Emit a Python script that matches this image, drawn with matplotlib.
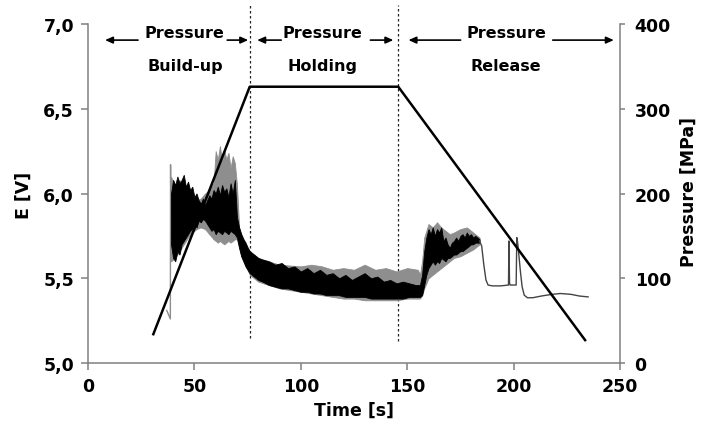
import matplotlib
matplotlib.use("Agg")
import matplotlib.pyplot as plt

# ---------------- data ----------------
# black E signal: envelope (upper / lower) of the noisy trace
t_black = [39, 40, 41, 42, 43, 44, 45, 46, 47, 48, 49, 50, 51, 52, 53, 54, 55, 56, 57, 58,
           59, 60, 61, 62, 63, 64, 65, 66, 67, 68, 69, 70, 71, 72, 73, 74, 75, 76, 78, 80,
           82, 85, 88, 91, 94, 97, 100, 103, 106, 109, 112, 115, 118, 121, 124, 127, 130,
           133, 136, 139, 142, 145, 148, 151, 154, 156, 157, 158, 159, 160, 161, 162, 163,
           164, 165, 166, 167, 168, 169, 170, 171, 172, 173, 174, 175, 176, 177, 178, 179,
           180, 181, 182, 183, 184]
black_hi = [6.00, 6.08, 6.05, 6.10, 6.06, 6.08, 6.11, 6.04, 6.07, 6.02, 6.04, 5.98, 6.00, 5.96,
            5.94, 5.97, 5.93, 5.96, 5.99, 5.97, 6.02, 6.00, 6.04, 5.99, 6.05, 6.01, 6.03, 5.98,
            6.06, 6.00, 6.08, 5.86, 5.80, 5.76, 5.73, 5.71, 5.68, 5.66, 5.64, 5.62, 5.61, 5.60,
            5.58, 5.59, 5.56, 5.57, 5.54, 5.56, 5.53, 5.55, 5.52, 5.53, 5.50, 5.52, 5.49, 5.51,
            5.53, 5.50, 5.51, 5.48, 5.49, 5.47, 5.48, 5.47, 5.46, 5.46, 5.52, 5.66, 5.74, 5.79,
            5.76, 5.80, 5.75, 5.79, 5.77, 5.80, 5.72, 5.74, 5.70, 5.68, 5.71, 5.72, 5.74, 5.72,
            5.75, 5.76, 5.74, 5.77, 5.75, 5.76, 5.74, 5.75, 5.74, 5.73]
black_lo = [5.70, 5.62, 5.60, 5.66, 5.64, 5.70, 5.72, 5.74, 5.76, 5.78, 5.79, 5.82, 5.80, 5.84,
            5.83, 5.85, 5.84, 5.82, 5.80, 5.78, 5.79, 5.76, 5.78, 5.77, 5.76, 5.78, 5.77, 5.76,
            5.78, 5.77, 5.76, 5.74, 5.68, 5.63, 5.60, 5.57, 5.55, 5.53, 5.51, 5.49, 5.48, 5.46,
            5.45, 5.44, 5.44, 5.43, 5.42, 5.42, 5.41, 5.41, 5.40, 5.40, 5.40, 5.39, 5.39, 5.39,
            5.39, 5.38, 5.38, 5.38, 5.38, 5.38, 5.38, 5.39, 5.39, 5.39, 5.40, 5.46, 5.52, 5.56,
            5.58, 5.60, 5.58, 5.60, 5.59, 5.62, 5.61, 5.60, 5.62, 5.62, 5.63, 5.64, 5.64, 5.65,
            5.66, 5.66, 5.67, 5.68, 5.69, 5.70, 5.70, 5.71, 5.71, 5.71]

# grey E signal: envelope of the noisy trace
t_grey = [39, 41, 43, 45, 47, 49, 51, 53, 55, 57, 59, 60, 61, 62, 63, 64, 65, 66, 67, 68, 69,
          70, 71, 72, 76, 80, 90, 100, 105, 110, 115, 120, 125, 130, 135, 140, 145, 150, 155,
          156, 157, 158, 160, 162, 164, 166, 168, 170, 172, 175, 178, 181, 184]
grey_hi = [6.10, 6.04, 6.08, 6.02, 6.00, 5.98, 5.96, 5.97, 6.00, 6.02, 6.06, 6.25, 6.20, 6.28,
           6.18, 6.26, 6.20, 6.24, 6.15, 6.22, 6.18, 6.05, 5.80, 5.76, 5.66, 5.62, 5.58, 5.57,
           5.58, 5.57, 5.55, 5.56, 5.55, 5.58, 5.55, 5.56, 5.54, 5.56, 5.55, 5.52, 5.60, 5.74,
           5.82, 5.80, 5.83, 5.80, 5.78, 5.76, 5.77, 5.79, 5.80, 5.77, 5.74]
grey_lo = [5.60, 5.62, 5.66, 5.70, 5.74, 5.77, 5.79, 5.80, 5.79, 5.76, 5.73, 5.72, 5.71, 5.72,
           5.71, 5.70, 5.71, 5.72, 5.71, 5.72, 5.73, 5.73, 5.68, 5.63, 5.52, 5.48, 5.44, 5.42,
           5.41, 5.40, 5.39, 5.38, 5.38, 5.37, 5.37, 5.37, 5.37, 5.38, 5.38, 5.38, 5.40, 5.44,
           5.50, 5.52, 5.54, 5.56, 5.58, 5.60, 5.62, 5.63, 5.65, 5.67, 5.70]

# start of the grey trace (small hook and spike)
t_start = [37.0, 38.7, 38.8, 39.0]
e_start = [5.31, 5.26, 6.17, 5.75]

# smooth tail of the signal after the noisy part
t_tail = [184, 185, 186, 187, 188, 190, 194, 197.6, 197.8, 198.1, 198.4, 201.2, 201.5, 202.0,
          202.6, 203.2, 204.0, 205.0, 206.5, 209, 213, 218, 222, 227, 231, 235]
e_tail = [5.72, 5.69, 5.58, 5.49, 5.46, 5.455, 5.455, 5.46, 5.72, 5.47, 5.46, 5.46, 5.74, 5.70,
          5.62, 5.54, 5.45, 5.40, 5.385, 5.385, 5.395, 5.405, 5.41, 5.405, 5.395, 5.39]

# pressure profile (right axis)
p_time = [30.7, 76.0, 145.8, 233.6]
p_val = [34, 326, 326, 27]

# phase boundaries and labels
phase_bounds = [76.0, 145.8]
phase_x = [45.5, 110.0, 196.5]
phase_line1 = ["Pressure", "Pressure", "Pressure"]
phase_line2 = ["Build-up", "Holding", "Release"]
# arrows (tail time, head time)
arrows = [(23.5, 8.0), (65.4, 75.3), (90.8, 79.5), (132.7, 143.5), (175.1, 150.6), (218.4, 247.1)]

x_ticks = [0, 50, 100, 150, 200, 250]
e_ticks = [5.0, 5.5, 6.0, 6.5, 7.0]
e_tick_labels = ["5,0", "5,5", "6,0", "6,5", "7,0"]
p_ticks = [0, 100, 200, 300, 400]

# ---------------- figure ----------------
plt.rcParams['font.family'] = ['DejaVu Sans']
plt.rcParams['font.weight'] = 'bold'

W, H = 703, 431
fig = plt.figure(figsize=(W / 100, H / 100), dpi=100)
ax = fig.add_axes([88 / W, 1 - 364 / H, (620 - 88) / W, (364 - 25) / H])
ax2 = ax.twinx()

grey = '#8e8e8e'
ax.fill_between(t_grey, grey_lo, grey_hi, color=grey, lw=0.6, edgecolor=grey, zorder=2)
ax.plot(t_start, e_start, color=grey, lw=1.0, zorder=2)
ax.fill_between(t_black, black_lo, black_hi, color='black', lw=0.6, edgecolor='black', zorder=3)
ax.plot(t_tail, e_tail, color='#444444', lw=1.0, zorder=3)

for xb, yb0 in zip(phase_bounds, [5.15, 5.13]):
    ax.plot([xb, xb], [yb0, 7.11], color='#222222', lw=0.9, ls=(0, (2.0, 2.0)),
            clip_on=False, zorder=1)

ax2.plot(p_time, p_val, color='black', lw=1.8, zorder=5)

for xc, l1, l2 in zip(phase_x, phase_line1, phase_line2):
    ax.text(xc, 6.95, l1, ha='center', va='center', fontsize=11.5, fontweight='bold',
            clip_on=False)
    ax.text(xc, 6.755, l2, ha='center', va='center', fontsize=11.5, fontweight='bold',
            clip_on=False)
for tail, head in arrows:
    ax.annotate('', xy=(head, 6.905), xytext=(tail, 6.905),
                arrowprops=dict(arrowstyle='-|>,head_length=0.45,head_width=0.2',
                                color='black', lw=1.2, shrinkA=0, shrinkB=0),
                annotation_clip=False)

ax.set_xlim(0, 250)
ax.set_ylim(5.0, 7.0)
ax2.set_ylim(0, 400)

spine_c = '#808080'
for a in (ax, ax2):
    a.spines['top'].set_visible(False)
ax.spines['right'].set_visible(False)
ax2.spines['left'].set_visible(False)
ax2.spines['bottom'].set_visible(False)
for s in ('left', 'bottom'):
    ax.spines[s].set_color(spine_c)
    ax.spines[s].set_linewidth(1.1)
ax2.spines['right'].set_color(spine_c)
ax2.spines['right'].set_linewidth(1.1)

ax.set_xticks(x_ticks)
ax.set_xticklabels([str(v) for v in x_ticks])
ax.set_yticks(e_ticks)
ax.set_yticklabels(e_tick_labels)
ax2.set_yticks(p_ticks)
ax2.set_yticklabels([str(v) for v in p_ticks])

ax.tick_params(axis='both', direction='out', length=5, width=1.1, color=spine_c,
               labelsize=12.5, pad=5)
ax2.tick_params(axis='y', direction='out', length=3.5, width=1.1, color=spine_c,
                labelsize=12.5, pad=7)
for lab in ax.get_xticklabels() + ax.get_yticklabels() + ax2.get_yticklabels():
    lab.set_fontweight('bold')

fig.text(354 / W, 1 - 411 / H, "Time [s]", ha='center', va='center', fontsize=12.5,
         fontweight='bold')
fig.text(24 / W, 1 - 195 / H, "E [V]", ha='center', va='center', rotation=90,
         fontsize=12.5, fontweight='bold')
fig.text(689 / W, 1 - 192 / H, "Pressure [MPa]", ha='center', va='center', rotation=90,
         fontsize=12.5, fontweight='bold')

fig.savefig("out.png", dpi=100)
